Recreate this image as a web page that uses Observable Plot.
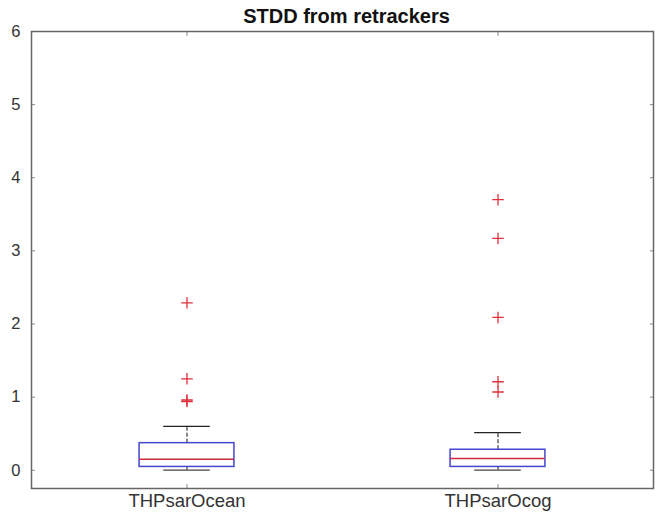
<!DOCTYPE html>
<html>
<head>
<meta charset="utf-8">
<script src="https://cdn.jsdelivr.net/npm/d3@7"></script>
<script src="https://cdn.jsdelivr.net/npm/@observablehq/plot@0.6"></script>
<style>
  html, body { margin: 0; padding: 0; background: #fff; }
  #chart { width: 657px; position: relative; }
  #title {
    position: absolute; top: 5px; left: 0; width: 657px;
    line-height: 26px; text-align: center;
    font: bold 20px "Liberation Sans", Arial, sans-serif; color: #111;
    padding-left: 36px; box-sizing: border-box;
  }
  svg { display: block; }
</style>
</head>
<body>
<div id="chart">
  <div id="title">STDD from retrackers</div>
</div>
<script>
// Box-plot summaries of STDD per retracker
const categories = ["THPsarOcean", "THPsarOcog"];
const positions = [1, 2];
const q1 = [0.045, 0.045];
const medians = [0.15, 0.16];
const q3 = [0.37, 0.28];
const whiskerLow = [0.0, 0.0];
const whiskerHigh = [0.60, 0.515];
const outliers = [
  [2.29, 1.25, 0.96, 0.94],
  [3.70, 3.17, 2.09, 1.21, 1.07]
];
const yTicks = [0, 1, 2, 3, 4, 5, 6];

const boxHalf = 0.1525;
const capHalf = 0.075;

const boxes = categories.map((name, i) => ({
  name, x: positions[i], q1: q1[i], med: medians[i], q3: q3[i],
  lo: whiskerLow[i], hi: whiskerHigh[i]
}));
const points = outliers.flatMap((vals, i) => vals.map(v => ({x: positions[i], y: v})));

const chart = Plot.plot({
  width: 657,
  height: 516,
  marginTop: 31,
  marginBottom: 28,
  marginLeft: 31,
  marginRight: 4,
  style: {fontFamily: "'Liberation Sans', Arial, sans-serif", fontSize: "14px", color: "#333", background: "transparent"},
  x: {domain: [0.5, 2.5]},
  y: {domain: [-0.25, 6]},
  marks: [
    Plot.axisY({ticks: yTicks, tickSize: -4, tickPadding: 15, tickFormat: d3.format("d"), label: null, stroke: "#888", fontSize: 16.5}),
    Plot.axisY({anchor: "right", ticks: yTicks, tickSize: -4, tickFormat: () => "", label: null, stroke: "#888"}),
    Plot.axisX({ticks: positions, tickSize: -4, tickPadding: 9, tickFormat: d => categories[positions.indexOf(d)], label: null, stroke: "#888", fontSize: 18.5}),
    Plot.axisX({anchor: "top", ticks: positions, tickSize: -4, tickFormat: () => "", label: null, stroke: "#888"}),
    Plot.frame({stroke: "#666", strokeWidth: 1.5}),
    // whiskers
    Plot.ruleX(boxes, {x: "x", y1: "q3", y2: "hi", stroke: "#111", strokeDasharray: "4,2"}),
    Plot.ruleX(boxes, {x: "x", y1: "lo", y2: "q1", stroke: "#111", strokeDasharray: "4,2"}),
    Plot.ruleY(boxes, {y: "hi", x1: d => d.x - capHalf, x2: d => d.x + capHalf, stroke: "#222", strokeWidth: 1.3}),
    Plot.ruleY(boxes, {y: "lo", x1: d => d.x - capHalf, x2: d => d.x + capHalf, stroke: "#444", strokeWidth: 1.3}),
    // boxes
    Plot.rect(boxes, {x1: d => d.x - boxHalf, x2: d => d.x + boxHalf, y1: "q1", y2: "q3", fill: "#fff", stroke: "#4646d2", strokeWidth: 1.5}),
    Plot.ruleY(boxes, {y: "med", x1: d => d.x - boxHalf, x2: d => d.x + boxHalf, stroke: "#d0283c", strokeWidth: 1.5}),
    // outliers
    Plot.dot(points, {x: "x", y: "y", symbol: "plus", r: 3.8, stroke: "#e0303c", strokeWidth: 1.3})
  ]
});
document.getElementById("chart").appendChild(chart);
</script>
</body>
</html>
